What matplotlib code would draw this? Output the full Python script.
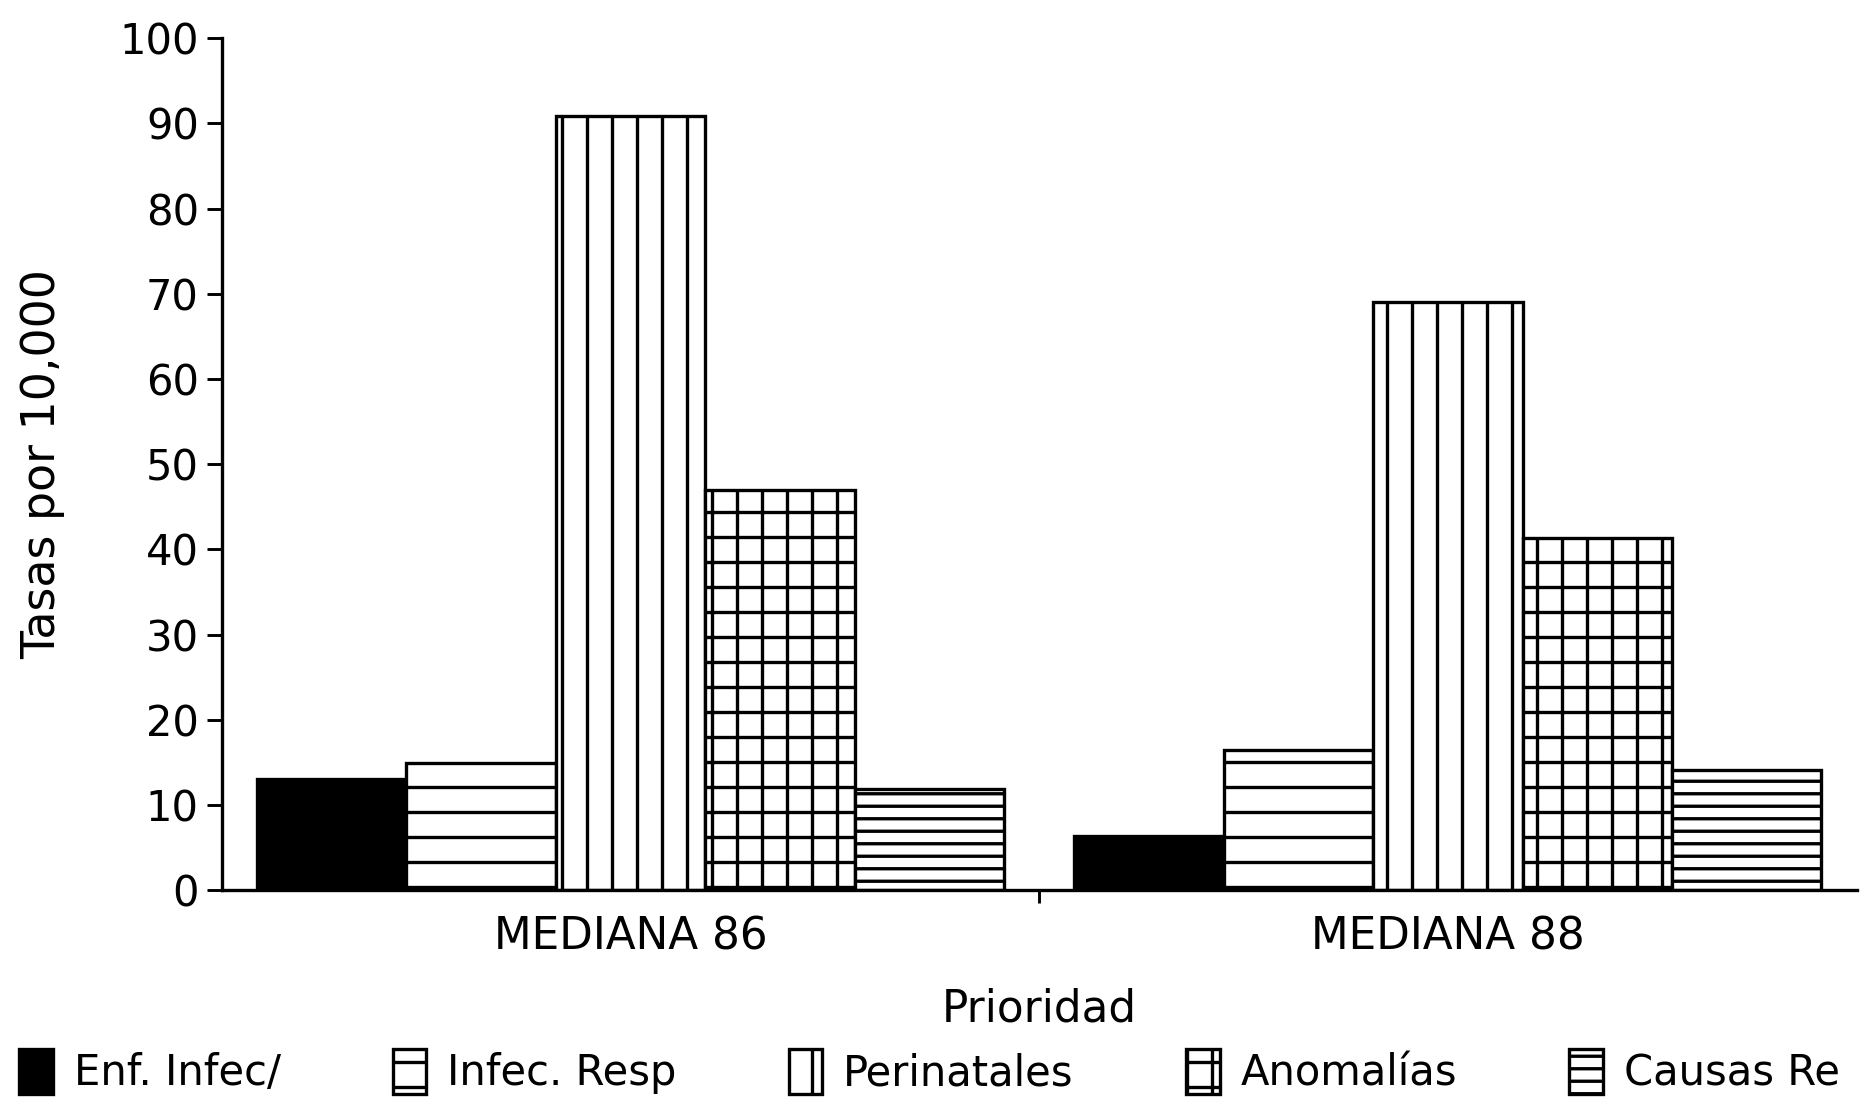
import matplotlib.pyplot as plt
import numpy as np

plt.rcParams['font.family'] = ['DejaVu Sans']
plt.rcParams['hatch.linewidth'] = 1.6
plt.rcParams['hatch.color'] = 'black'

groups = ['MEDIANA 86', 'MEDIANA 88']
series = ['Enf. Infec/', 'Infec. Resp', 'Perinatales', 'Anomalías', 'Causas Re']
values = [
    [13.1, 6.4],    # Enf. Infec/
    [14.9, 16.5],   # Infec. Resp
    [90.8, 69.0],   # Perinatales
    [47.0, 41.3],   # Anomalias
    [11.9, 14.1],   # Causas Re
]
yticks = [0, 10, 20, 30, 40, 50, 60, 70, 80, 90, 100]

fills = ['black', 'white', 'white', 'white', 'white']
hatches = [None, '-', '|', '+', '--']

fig = plt.figure(figsize=(1864 / 150, 1106 / 150), dpi=150)
ax = fig.add_axes([0.119, 0.195, 0.877, 0.7706])

x = np.arange(len(groups))
width = 0.914 / len(series)
handles = []
for i, name in enumerate(series):
    offs = (i - (len(series) - 1) / 2) * width
    b = ax.bar(x + offs, values[i], width, color=fills[i], edgecolor='black',
               hatch=hatches[i], linewidth=1.6, label=name)
    handles.append(b)

ax.set_xlim(-0.5, 1.5)
ax.set_ylim(0, 100)
ax.set_yticks(yticks)
ax.set_xticks(x)
ax.set_xticklabels(groups, fontsize=21)
ax.set_xticks([0.5], minor=True)
ax.tick_params(axis='x', which='major', length=0, pad=12)
ax.tick_params(axis='x', which='minor', length=6, width=1.4, direction='out')
ax.tick_params(axis='y', length=7, width=1.4, direction='out', labelsize=20, pad=4)

for s in ['top', 'right']:
    ax.spines[s].set_visible(False)
ax.spines['left'].set_linewidth(1.6)
ax.spines['bottom'].set_linewidth(1.6)

ax.set_ylabel('Tasas por 10,000', fontsize=22, labelpad=26)
ax.set_xlabel('Prioridad', fontsize=21, labelpad=14)

fig.legend(handles=handles, labels=series, loc='lower left',
           bbox_to_anchor=(-0.003, -0.012), ncol=5, frameon=False, fontsize=20,
           handlelength=0.8, handleheight=1.3, handletextpad=0.5,
           columnspacing=2.7, borderaxespad=0.2)

fig.savefig('out.png', dpi=150)
